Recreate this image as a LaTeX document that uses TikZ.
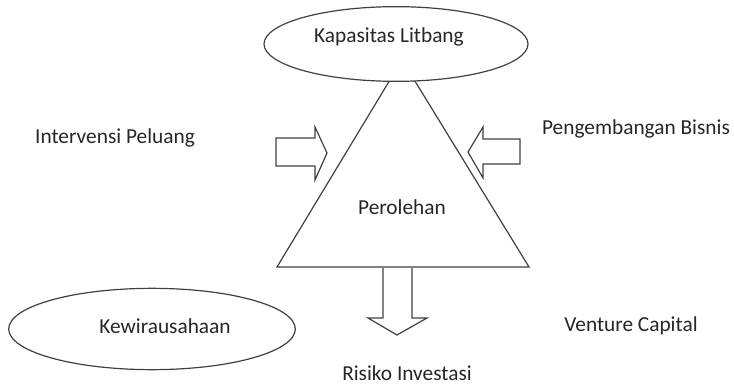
\documentclass[tikz,border=0pt]{standalone}
\usepackage{fontspec}
\setmainfont{Carlito}
\usepackage{tikz}
\usetikzlibrary{shapes.geometric}

\tikzset{
  outline/.style={draw=black!75, line width=0.9pt},
  oval/.style={outline, ellipse, fill=white, inner sep=0pt},
  lbl/.style={text=black!85, font=\fontsize{16}{19}\selectfont, inner sep=0pt}
}

\begin{document}
\begin{tikzpicture}[x=0.75pt, y=-0.75pt]
\useasboundingbox (0,0) rectangle (734,384);
\draw[outline] (277,267)--(402,60)--(529,267)--cycle;
\node[oval, minimum width=198pt, minimum height=56pt] (litbang) at (396,44) {};
\node[oval, minimum width=215pt, minimum height=61pt] (kewira) at (152,329) {};
% block arrows
\draw[outline, line join=miter] (276,138)--(315,138)--(315,127)--(327,153)--(315,180)--(315,166)--(276,166)--cycle;
\draw[outline, line join=miter] (520,139)--(483,139)--(483,127)--(468,152)--(483,178)--(483,164)--(520,164)--cycle;
\draw[outline, line join=miter] (383,268)--(383,318)--(368,318)--(397,335)--(427,318)--(412,318)--(412,268);
% labels
\node[lbl] (kapasitas) at (389,37) {Kapasitas Litbang};
\node[lbl] (perolehan) at (402,207) {Perolehan};
\node[lbl] (intervensi) at (115,138) {Intervensi Peluang};
\node[lbl] (bisnis) at (636,129) {Pengembangan Bisnis};
\node[lbl] (kewirausahaan) at (165,326) {Kewirausahaan};
\node[lbl] (venture) at (631,326) {Venture Capital};
\node[lbl] (risiko) at (407,373) {Risiko Investasi};
\end{tikzpicture}
\end{document}
